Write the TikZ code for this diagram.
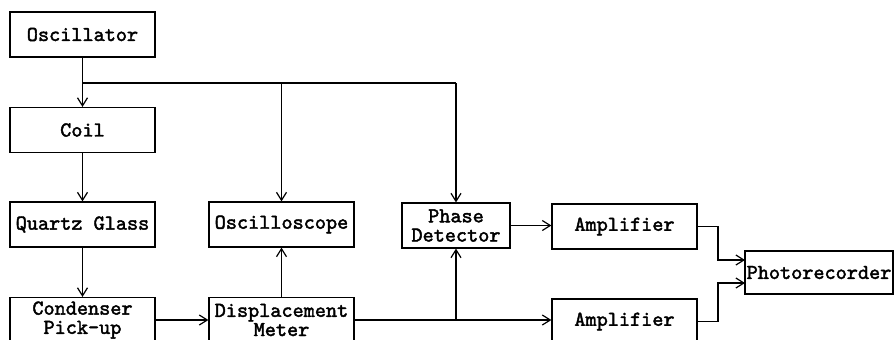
\documentclass[tikz,border=0pt]{standalone}
\usepackage{fontspec}
\newfontfamily\boxfont{Latin Modern Mono}[FakeBold=2]
\usetikzlibrary{arrows.meta, positioning}

\begin{document}
\begin{tikzpicture}[x=0.5pt, y=-0.5pt,
  block/.style={rectangle, draw, line width=0.6pt, minimum width=72.5pt,
                minimum height=22.5pt, inner sep=1pt, align=center,
                font=\boxfont\fontsize{10.6}{9.6}\selectfont},
  arr/.style={-{Straight Barb[length=4pt, width=5pt]}, line width=0.6pt},
  wire/.style={line width=0.6pt}
]
\useasboundingbox (0,0) rectangle (895,339);
\clip (0,0) rectangle (895,339);

% Left column
\node[block] (osc) at (82.5,34.5) {Oscillator};
\node[block] (coil) at (82.5,130) {Coil};
\node[block] (quartz) at (82.5,224.5) {Quartz Glass};
\node[block] (pickup) at (82.5,320) {Condenser\\Pick-up};

% Middle column
\node[block] (scope) at (281.5,224.5) {Oscilloscope};
\node[block] (meter) at (281.5,320) {Displacement\\Meter};

% Right part
\node[block, minimum width=54pt] (phase) at (456,225.5) {Phase\\Detector};
\node[block] (amp1) at (624.5,226.5) {Amplifier};
\node[block] (amp2) at (624.5,321.5) {Amplifier};
\node[block, minimum width=74pt, minimum height=21.5pt, inner sep=0pt] (photo) at (819,272.5) {Photorecorder};

% Branch points
\coordinate (split) at (82.5,83);
\coordinate (tap) at (456,320);
\coordinate (in1) at (745,260);
\coordinate (in2) at (745,283);

% Oscillator feed
\draw[arr] (osc) -- (coil);
\draw[wire] (split) -- (456,83);
\draw[arr] (281.5,83) -- (scope.north);
\draw[arr] (456,83) -- (phase.north);

% Signal chain
\draw[arr] (coil) -- (quartz);
\draw[arr] (quartz) -- (pickup);
\draw[arr] (pickup.east |- meter.west) -- (meter.west);
\draw[arr] (meter) -- (scope);
\draw[arr] (meter.east) -- (amp2.west |- meter.east);
\draw[arr] (tap) -- (phase.south);
\draw[arr] (phase.east) -- (amp1.west |- phase.east);

% To the recorder
\draw[arr] (amp1.east) -| (718,260) -- (in1);
\draw[arr] (amp2.east) -| (718,283) -- (in2);
\end{tikzpicture}
\end{document}
